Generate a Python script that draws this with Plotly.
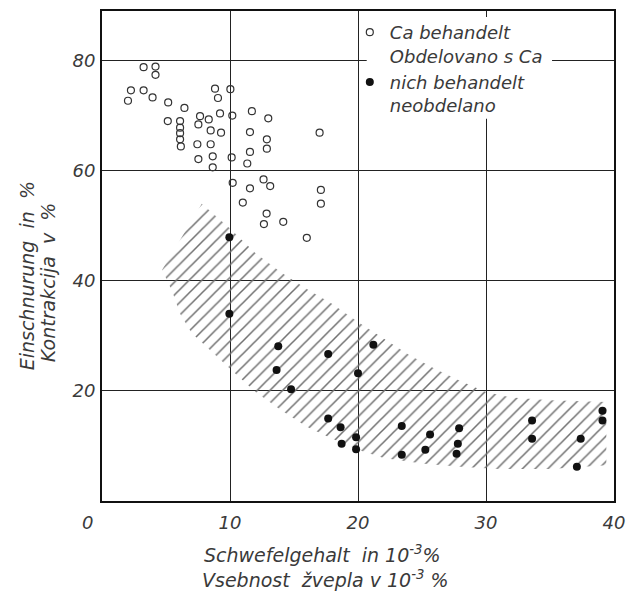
import plotly.graph_objects as go

# --- data ---
ca_x = [3.25, 4.18, 4.18, 2.26, 2.03, 3.25, 3.95, 5.17, 6.44, 5.14, 6.1, 6.1, 6.1, 6.1, 6.16,
        7.66, 7.53, 8.34, 8.49, 9.3, 9.22, 8.83, 9.06, 10.03, 10.18, 7.45, 8.49, 7.53, 8.65,
        8.65, 10.13, 11.71, 12.99, 11.56, 12.88, 12.88, 11.56, 11.35, 17.0, 10.21, 11.56,
        12.62, 13.14, 11.0, 17.1, 17.1, 12.86, 12.65, 14.16, 16.0]
ca_y = [78.8, 78.9, 77.4, 74.6, 72.7, 74.6, 73.3, 72.4, 71.4, 69.0, 69.0, 67.8, 66.8, 65.7, 64.4,
        69.9, 68.4, 69.3, 67.3, 66.9, 70.4, 74.9, 73.2, 74.8, 70.0, 64.8, 64.8, 62.1, 62.6,
        60.6, 62.4, 70.8, 69.5, 67.0, 65.7, 64.0, 63.4, 61.3, 66.9, 57.8, 56.8,
        58.4, 57.2, 54.2, 56.5, 54.0, 52.2, 50.3, 50.7, 47.8]

nc_x = [9.95, 9.95, 13.77, 13.64, 14.77, 17.67, 20.0, 17.67, 18.64, 18.72, 19.85, 19.85, 21.2,
        23.42, 23.42, 25.63, 25.26, 27.9, 27.8, 27.7, 33.6, 33.6, 37.4, 37.1, 39.1, 39.1]
nc_y = [47.9, 34.0, 28.1, 23.8, 20.3, 26.7, 23.2, 15.0, 13.4, 10.4, 11.6, 9.4, 28.4,
        13.6, 8.4, 12.1, 9.3, 13.2, 10.4, 8.6, 14.6, 11.3, 11.3, 6.2, 16.4, 14.6]

band_upper_x = [4.7, 7.8, 10, 12, 14, 16, 18, 20, 22, 24, 26, 28, 30, 32, 35, 39.4]
band_upper_y = [42, 54, 49.5, 45, 41.5, 38.5, 35.8, 32.5, 29.5, 26.5, 24, 21.8, 19.8, 18.8, 18.3, 18]
band_lower_x = [4.7, 5.5, 6.1, 7, 8.5, 10, 12, 14, 16, 18, 20, 22, 25, 28, 31, 35, 39.4]
band_lower_y = [42, 38, 34, 30.5, 27.3, 24, 19.8, 16.5, 13.5, 11.3, 9.3, 7.8, 6.8, 6.2, 5.8, 5.8, 6.5]

x_ticks = [0, 10, 20, 30, 40]
x_tick_labels = ["0&nbsp;&nbsp;&nbsp;&nbsp;&nbsp;", "10", "20", "30", "40"]
y_ticks = [20, 40, 60, 80]

legend_names = ["Ca behandelt<br>Obdelovano s Ca", "nich behandelt<br>neobdelano"]
x_title = ["Schwefelgehalt&nbsp;&nbsp;in 10<sup>-3</sup>%", "Vsebnost&nbsp;&nbsp;žvepla v 10<sup>-3</sup> %"]
y_title = ["Einschnurung&nbsp;&nbsp;in&nbsp;&nbsp;%", "Kontrakcija&nbsp;&nbsp;v&nbsp;&nbsp;%"]

FONT = "DejaVu Sans"
TXT = "#3a3a3a"

band_x = band_upper_x + band_lower_x[::-1]
band_y = band_upper_y + band_lower_y[::-1]

fig = go.Figure()
fig.add_trace(go.Scatter(
    x=band_x, y=band_y, mode="none", fill="toself",
    fillcolor="rgba(0,0,0,0)",
    fillpattern=dict(shape="/", size=9, solidity=0.17, fgcolor="#707070",
                     bgcolor="rgba(255,255,255,0)", fillmode="replace"),
    showlegend=False, hoverinfo="skip"))
fig.add_trace(go.Scatter(
    x=ca_x, y=ca_y, mode="markers", name=legend_names[0],
    marker=dict(symbol="circle-open", size=7, color="#333", line=dict(width=1.2))))
fig.add_trace(go.Scatter(
    x=nc_x, y=nc_y, mode="markers", name=legend_names[1],
    marker=dict(symbol="circle", size=8, color="#111")))

axis_common = dict(showline=True, linecolor="#111", linewidth=2, mirror=True,
                   showgrid=True, gridcolor="#222", gridwidth=1.2, zeroline=False,
                   ticks="", tickfont=dict(family=FONT, size=18, color=TXT, style="italic"))
fig.update_xaxes(range=[0, 40], tickvals=x_ticks, ticktext=x_tick_labels,
                 ticklabelstandoff=4, **axis_common)
fig.update_yaxes(range=[0, 89], tickvals=y_ticks, ticklabelstandoff=1, **axis_common)

# white backing behind the legend (hides grid lines like in the original)
fig.add_shape(type="rect", xref="paper", yref="paper", x0=0.517, x1=0.879, y0=0.78, y1=0.988,
              fillcolor="white", line=dict(width=0), layer="above")

def title_ann(text, x, y, angle=0):
    return dict(text=text, x=x, y=y, xref="paper", yref="paper", showarrow=False,
                xanchor="center", yanchor="middle", textangle=angle,
                font=dict(family=FONT, size=19, color=TXT, style="italic"))

ann = [
    title_ann(x_title[0], 0.43, -0.108),
    title_ann(x_title[1], 0.436, -0.16),
    title_ann(y_title[0], -0.147, 0.46, -90),
    title_ann(y_title[1], -0.105, 0.445, -90),
]

# page body has an 8px margin: size the figure so the plot area lands where it should
fig.update_layout(
    width=630, height=590,
    margin=dict(l=94, r=24, t=1, b=97),
    paper_bgcolor="white", plot_bgcolor="white",
    showlegend=True,
    legend=dict(x=0.484, y=0.994, xanchor="left", yanchor="top", valign="top",
                bgcolor="rgba(0,0,0,0)", borderwidth=0,
                font=dict(family=FONT, size=18, color=TXT, style="italic")),
    annotations=ann,
)

fig.write_html("out.html")
